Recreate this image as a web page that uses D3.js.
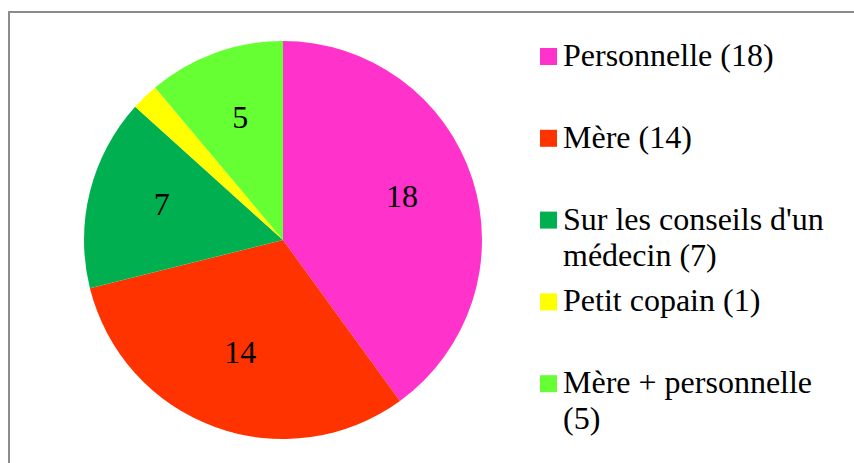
<!DOCTYPE html>
<html>
<head>
<meta charset="utf-8">
<script src="https://cdn.jsdelivr.net/npm/d3@7"></script>
<style>
  html, body { margin: 0; padding: 0; background: #fff; }
  svg { display: block; }
</style>
</head>
<body>
<div id="chart"></div>
<script>
// data
var categories = ["Personnelle", "Mère", "Sur les conseils d'un médecin", "Petit copain", "Mère + personnelle"];
var values = [18, 14, 7, 1, 5];
var colors = ["#ff33cc", "#ff3300", "#00b050", "#ffff00", "#66ff33"];
// legend text, already wrapped like in the original
var legendLines = [
    ["Personnelle (18)"],
    ["Mère (14)"],
    ["Sur les conseils d'un", "médecin (7)"],
    ["Petit copain (1)"],
    ["Mère + personnelle", "(5)"]
];

var W = 854, H = 463;
var cx = 283, cy = 240, r = 199;
var labelR = 125;
var FONT = "Liberation Serif";

var svg = d3.select("#chart").append("svg")
    .attr("width", W)
    .attr("height", H);

// chart frame (runs off the right and bottom edge)
svg.append("rect")
    .attr("x", 9).attr("y", 12)
    .attr("width", 900).attr("height", 500)
    .attr("fill", "none")
    .attr("stroke", "#8c8c8c")
    .attr("stroke-width", 2);

var data = categories.map(function (c, i) { return {name: c, value: values[i], color: colors[i]}; });

var pie = d3.pie().sort(null).value(function (d) { return d.value; });
var arcs = pie(data);

var arc = d3.arc().innerRadius(0).outerRadius(r);
var labelArc = d3.arc().innerRadius(labelR).outerRadius(labelR);

var g = svg.append("g").attr("transform", "translate(" + cx + "," + cy + ")");

g.selectAll("path")
    .data(arcs)
    .enter().append("path")
    .attr("d", arc)
    .attr("fill", function (d) { return d.data.color; });

// value labels, the tiny slice has none in the original
g.selectAll("text.val")
    .data(arcs.filter(function (d) { return d.data.value > 1; }))
    .enter().append("text")
    .attr("class", "val")
    .attr("transform", function (d) { return "translate(" + labelArc.centroid(d) + ")"; })
    .attr("text-anchor", "middle")
    .attr("dy", "0.17em")
    .style("font-family", FONT)
    .attr("font-size", 32)
    .attr("fill", "#000")
    .text(function (d) { return d.data.value; });

// legend
var legX = 540, legY = 48, legStep = 81.8, sq = 17;
var leg = svg.append("g");
legendLines.forEach(function (lines, i) {
    var top = legY + i * legStep;
    leg.append("rect")
        .attr("x", legX).attr("y", top)
        .attr("width", sq).attr("height", sq)
        .attr("fill", colors[i]);
    var t = leg.append("text")
        .attr("x", legX + 23)
        .attr("y", top + 18)
        .style("font-family", FONT)
        .attr("font-size", 32)
        .attr("fill", "#000");
    lines.forEach(function (ln, j) {
        t.append("tspan")
            .attr("x", legX + 23)
            .attr("dy", j === 0 ? 0 : 36)
            .text(ln);
    });
});
</script>
</body>
</html>
